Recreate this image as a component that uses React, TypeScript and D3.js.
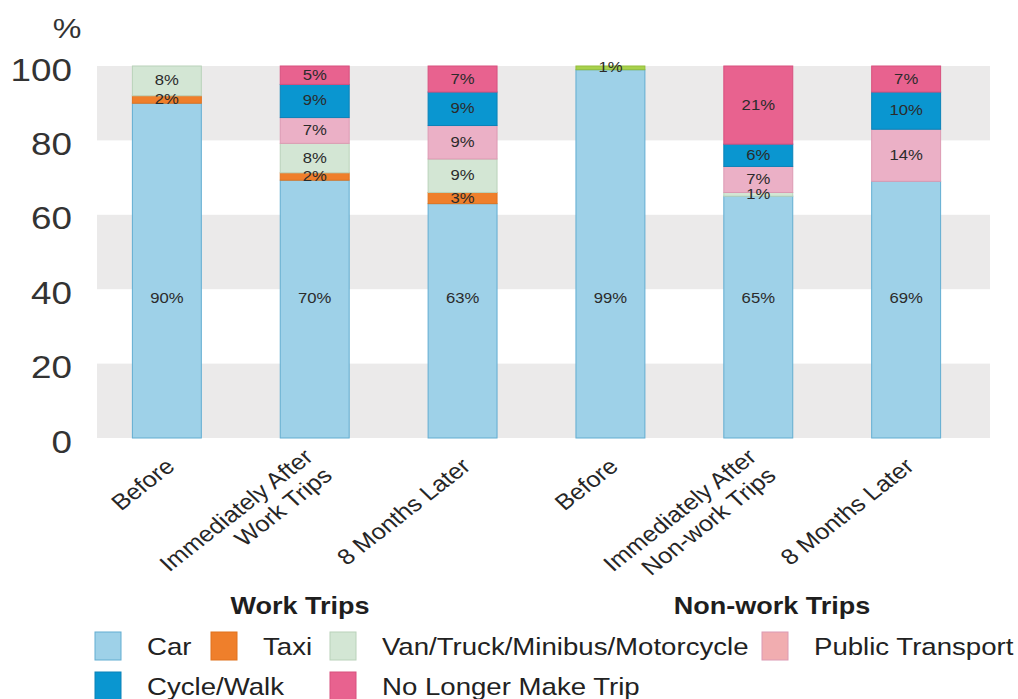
import React from 'react';
import * as d3 from 'd3';

const W = 1018;
const H = 699;
const SX = 1.15; // the source picture is stretched horizontally

const categories = [
  ['Before'],
  ['Immediately After', 'Work Trips'],
  ['8 Months Later'],
  ['Before'],
  ['Immediately After', 'Non-work Trips'],
  ['8 Months Later'],
];
const groupNames = ['Work Trips', 'Non-work Trips'];

const carValues = [90, 70, 63, 99, 65, 69];
const taxiValues = [2, 2, 3, 0, 0, 0];
const vanValues = [8, 8, 9, 0, 1, 0];
const otherValues = [0, 0, 0, 1, 0, 0];
const ptValues = [0, 7, 9, 0, 7, 14];
const cycleValues = [0, 9, 9, 0, 6, 10];
const noLongerValues = [0, 5, 7, 0, 21, 7];

const yTicks = [0, 20, 40, 60, 80, 100];

const series = [
  { key: 'car', name: 'Car', values: carValues, fill: '#9ed1e8', stroke: '#62add1' },
  { key: 'taxi', name: 'Taxi', values: taxiValues, fill: '#ef7f2b', stroke: '#e0731f' },
  { key: 'van', name: 'Van/Truck/Minibus/Motorcycle', values: vanValues, fill: '#d3e6d4', stroke: '#b9d2ba' },
  { key: 'other', name: '', values: otherValues, fill: '#a8d14c', stroke: '#93be3a' },
  { key: 'pt', name: 'Public Transport', values: ptValues, fill: '#ebb0c6', stroke: '#dc9ab3' },
  { key: 'cycle', name: 'Cycle/Walk', values: cycleValues, fill: '#0a96d0', stroke: '#0a82b8' },
  { key: 'nolonger', name: 'No Longer Make Trip', values: noLongerValues, fill: '#e8628f', stroke: '#d8507e' },
];

// legend slots: [series key, square x, row]
const legendSlots: [string, number, number][] = [
  ['car', 95, 0],
  ['taxi', 211, 0],
  ['van', 330, 0],
  ['pt', 762, 0],
  ['cycle', 95, 1],
  ['nolonger', 330, 1],
];

const CAR_LABEL_AT = 37.5;
const FONT = '"Liberation Sans", Arial, sans-serif';

export default function App() {
  const x = d3
    .scaleBand<number>()
    .domain(d3.range(categories.length))
    .range([93, 980])
    .paddingInner(0.527)
    .paddingOuter(0.263);
  const y = d3.scaleLinear().domain([0, 100]).range([438, 66]);

  const table = categories.map((_, i) => {
    const row: Record<string, number> = {};
    series.forEach((s) => (row[s.key] = s.values[i]));
    return row;
  });
  const stacked = d3
    .stack<Record<string, number>>()
    .keys(series.map((s) => s.key))
    .offset(d3.stackOffsetExpand)(table);

  const bands = [
    [0, 20],
    [40, 60],
    [80, 100],
  ];

  const sText = (tx: number, ty: number) => `translate(${tx},${ty}) scale(${SX},1)`;

  return (
    <svg width={W} height={H} style={{ position: 'absolute', left: 0, top: 0 }} fontFamily={FONT}>
      <rect width={W} height={H} fill="#fff" />
      {bands.map(([a, b]) => (
        <rect key={a} x={97} width={893} y={y(b)} height={y(a) - y(b)} fill="#ebeaea" />
      ))}

      {/* y axis */}
      <text transform={sText(67, 38)} textAnchor="middle" fontSize={28} fill="#333">%</text>
      {yTicks.map((t) => (
        <text key={t} transform={sText(72, y(t) + 14.5)} textAnchor="end" fontSize={32} fill="#333">
          {t}
        </text>
      ))}

      {/* bars */}
      {stacked.map((layer, li) => {
        const s = series[li];
        return (
          <g key={s.key}>
            {layer.map((d, i) => {
              if (s.values[i] === 0) return null;
              const y0 = y(d[0] * 100);
              const y1 = y(d[1] * 100);
              return (
                <rect
                  key={i}
                  x={x(i)! + 0.5}
                  width={x.bandwidth() - 1}
                  y={y1}
                  height={y0 - y1}
                  fill={s.fill}
                  stroke={s.stroke}
                  strokeWidth={1}
                />
              );
            })}
          </g>
        );
      })}

      {/* value labels */}
      {stacked.map((layer, li) => {
        const s = series[li];
        return (
          <g key={s.key + '-lab'}>
            {layer.map((d, i) => {
              if (s.values[i] === 0) return null;
              const mid = s.key === 'car' ? CAR_LABEL_AT : ((d[0] + d[1]) / 2) * 100;
              const cx = x(i)! + x.bandwidth() / 2;
              return (
                <text
                  key={i}
                  transform={sText(cx, y(mid) + 4.5)}
                  textAnchor="middle"
                  fontSize={14.5}
                  fill="#2b2b2b"
                >
                  {s.values[i]}%
                </text>
              );
            })}
          </g>
        );
      })}

      {/* category labels */}
      {categories.map((lines, i) => {
        const cx = x(i)! + x.bandwidth() / 2;
        const n = lines.length;
        return (
          <g key={i} transform={`translate(${cx + 4},${463}) scale(${SX},1) rotate(-42)`}>
            {lines.map((ln, k) => (
              <text
                key={k}
                x={0}
                y={(k - (n - 1) / 2) * 25 + 7}
                textAnchor="end"
                fontSize={22}
                fill="#262626"
              >
                {ln}
              </text>
            ))}
          </g>
        );
      })}

      {/* group labels */}
      {groupNames.map((g, i) => (
        <text
          key={g}
          transform={sText(i === 0 ? 300 : 772, 614)}
          textAnchor="middle"
          fontSize={23.5}
          fontWeight="bold"
          fill="#1e1e1e"
        >
          {g}
        </text>
      ))}

      {/* legend */}
      {legendSlots.map(([key, lx, row]) => {
        const s = series.find((q) => q.key === key)!;
        const cy = row === 0 ? 646 : 686;
        return (
          <g key={key}>
            <rect x={lx} y={cy - 14} width={26} height={28} fill={key === 'pt' ? '#f1adb0' : s.fill} stroke={s.stroke} strokeWidth={1} />
            <text transform={sText(lx + 52, cy + 9)} fontSize={24} fill="#222">
              {s.name}
            </text>
          </g>
        );
      })}
    </svg>
  );
}
